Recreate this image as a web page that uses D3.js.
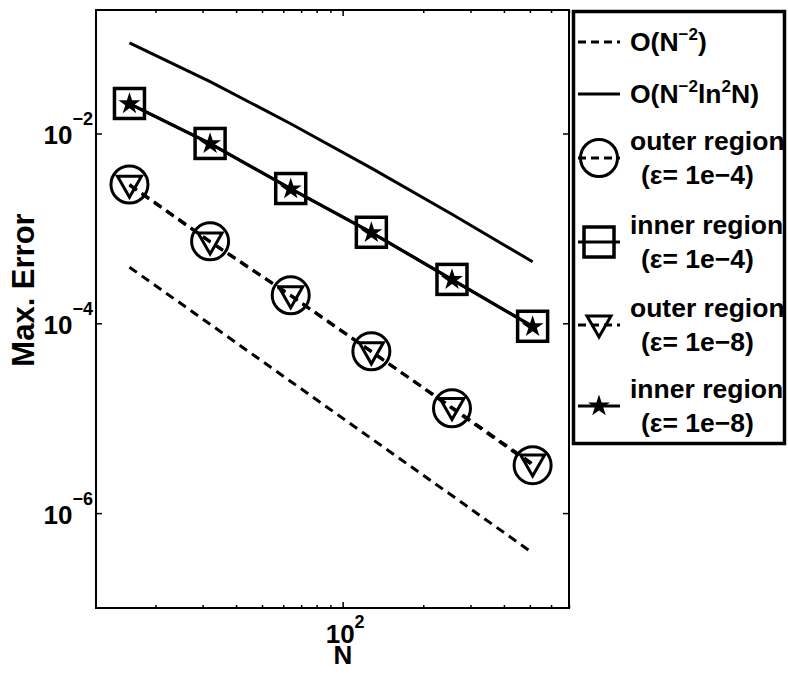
<!DOCTYPE html>
<html>
<head>
	<meta charset="utf-8">
	<title>Max. Error vs N</title>
	<script src="https://d3js.org/d3.v7.min.js"></script>
	<style>
		body { margin: 0; background: white; }
		text { font-family: "Liberation Sans", Arial, Helvetica, sans-serif; font-weight: bold; fill: black; }
	</style>
</head>
<body>
</body>
<script>
	// data
	var nValues = [16, 32, 64, 128, 256, 512];
	var refN2 = [3.9e-4, 9.77e-5, 2.44e-5, 6.1e-6, 1.53e-6, 3.8e-7];
	var refN2ln = [0.0901, 0.0352, 0.01267, 0.00431, 0.001408, 4.45e-4];
	var outer4 = [2.9e-3, 7.3e-4, 1.97e-4, 5.07e-5, 1.27e-5, 3.2e-6];
	var inner4 = [2.07e-2, 7.85e-3, 2.63e-3, 9.1e-4, 2.9e-4, 9.3e-5];
	var outer8 = [2.85e-3, 7.2e-4, 1.95e-4, 5.0e-5, 1.3e-5, 3.3e-6];
	var inner8 = [2.05e-2, 7.8e-3, 2.6e-3, 9.0e-4, 2.88e-4, 9.2e-5];

	var yTickValues = [1e-2, 1e-4, 1e-6];
	var yTickExp = ["\u22122", "\u22124", "\u22126"];
	var xMajorTicks = [100];
	var xMinorTicks = [20, 30, 40, 50, 60, 70, 80, 90, 200, 300, 400, 500, 600, 700];

	var width = 788, height = 675;
	var mLeft = 96, mRight = 569, mTop = 10, mBottom = 608;

	var svg = d3.select("body").append("svg").attr("width", width).attr("height", height);

	var x = d3.scaleLog().domain([12, 700]).range([mLeft, mRight]);
	var y = d3.scaleLog().domain([1e-7, 0.2]).range([mBottom, mTop]);

	// axes (ticks point inward, like matlab)
	function addAxis(axis, tx, ty) {
		var g = svg.append("g").attr("transform", "translate(" + tx + "," + ty + ")").call(axis);
		g.select(".domain").remove();
		g.selectAll("line").attr("stroke", "black").attr("stroke-width", 1.5);
		return g;
	}
	addAxis(d3.axisBottom(x).tickValues(xMinorTicks).tickSize(-3).tickFormat(""), 0, mBottom);
	addAxis(d3.axisTop(x).tickValues(xMinorTicks).tickSize(-3).tickFormat(""), 0, mTop);
	var xAxisG = addAxis(d3.axisBottom(x).tickValues(xMajorTicks).tickSize(-6).tickFormat(""), 0, mBottom);
	addAxis(d3.axisTop(x).tickValues(xMajorTicks).tickSize(-6).tickFormat(""), 0, mTop);
	var yAxisG = addAxis(d3.axisLeft(y).tickValues(yTickValues).tickSize(-6).tickFormat(""), mLeft, 0);
	addAxis(d3.axisRight(y).tickValues(yTickValues).tickSize(-6).tickFormat(""), mRight, 0);

	svg.append("rect").attr("x", mLeft).attr("y", mTop).attr("width", mRight - mLeft).attr("height", mBottom - mTop)
		.attr("fill", "none").attr("stroke", "black").attr("stroke-width", 2);

	// tick labels with superscripts
	yAxisG.selectAll(".tick").each(function(d, i) {
		var t = d3.select(this).append("text").attr("text-anchor", "end").attr("x", -3).attr("y", 10);
		t.append("tspan").attr("font-size", 26).text("10");
		t.append("tspan").attr("font-size", 18).attr("dy", -19).text(yTickExp[i]);
	});
	xAxisG.selectAll(".tick").each(function(d) {
		var t = d3.select(this).append("text").attr("text-anchor", "middle").attr("y", 35).attr("x", 2);
		t.append("tspan").attr("font-size", 26).text("10");
		t.append("tspan").attr("font-size", 18).attr("dy", -15).text("2");
	});

	svg.append("text").attr("x", 343).attr("y", 664).attr("text-anchor", "middle").attr("font-size", 26).text("N");
	svg.append("text").attr("transform", "translate(34,290) rotate(-90)").attr("text-anchor", "middle")
		.attr("font-size", 31).text("Max. Error");

	// series
	var line = d3.line().x(function(d) { return x(d[0]); }).y(function(d) { return y(d[1]); });
	function pairs(vals) { return nValues.map(function(n, i) { return [n, vals[i]]; }); }

	var series = [
		{ vals: refN2, dash: "9,6", marker: null },
		{ vals: refN2ln, dash: null, marker: null },
		{ vals: outer4, dash: "9,6", marker: "circle" },
		{ vals: inner4, dash: null, marker: "square" },
		{ vals: outer8, dash: "9,6", marker: "triangle" },
		{ vals: inner8, dash: null, marker: "star" }
	];

	function drawMarker(g, kind, cx, cy) {
		if (kind === "circle") {
			g.append("circle").attr("cx", cx).attr("cy", cy).attr("r", 18.5)
				.attr("fill", "none").attr("stroke", "black").attr("stroke-width", 3);
		} else if (kind === "square") {
			g.append("rect").attr("x", cx - 15).attr("y", cy - 15).attr("width", 30).attr("height", 30)
				.attr("fill", "none").attr("stroke", "black").attr("stroke-width", 3.5);
		} else if (kind === "triangle") {
			g.append("path").attr("d", "M" + (cx - 12) + "," + (cy - 9) + "L" + (cx + 12) + "," + (cy - 9) + "L" + cx + "," + (cy + 12) + "Z")
				.attr("fill", "none").attr("stroke", "black").attr("stroke-width", 3);
		} else if (kind === "star") {
			g.append("path").attr("d", d3.symbol().type(d3.symbolStar).size(150)())
				.attr("transform", "translate(" + cx + "," + cy + ")").attr("fill", "black");
		}
	}

	series.forEach(function(s) {
		svg.append("path").datum(pairs(s.vals)).attr("d", line)
			.attr("fill", "none").attr("stroke", "black").attr("stroke-width", 3)
			.attr("stroke-dasharray", s.dash);
	});
	series.forEach(function(s) {
		if (!s.marker) return;
		var g = svg.append("g");
		pairs(s.vals).forEach(function(p) { drawMarker(g, s.marker, x(p[0]), y(p[1])); });
	});

	// legend
	var legendLabels = [
		[["O(N", ""], ["\u22122", "sup"], [")", ""]],
		[["O(N", ""], ["\u22122", "sup"], ["ln", ""], ["2", "sup"], ["N)", ""]],
		[["outer region", ""]],
		[["inner region", ""]],
		[["outer region", ""]],
		[["inner region", ""]]
	];
	var legendSub = [null, null, "(\u03b5= 1e\u22124)", "(\u03b5= 1e\u22124)", "(\u03b5= 1e\u22128)", "(\u03b5= 1e\u22128)"];
	var legendY = [42, 94, 158, 242, 325, 406];

	svg.append("rect").attr("x", 573.5).attr("y", 11.5).attr("width", 211).attr("height", 432)
		.attr("fill", "white").attr("stroke", "black").attr("stroke-width", 3.5);

	var lg = svg.append("g");
	series.forEach(function(s, i) {
		var cy = legendY[i];
		lg.append("line").attr("x1", 578).attr("x2", 620).attr("y1", cy).attr("y2", cy)
			.attr("stroke", "black").attr("stroke-width", 3).attr("stroke-dasharray", s.dash ? "8,5" : null);
		if (s.marker) drawMarker(lg, s.marker, 599, cy);

		var first = legendSub[i] ? cy - 17 : cy;
		var t = lg.append("text").attr("x", 630).attr("y", first + 9).attr("font-size", 26.5);
		var raised = false;
		legendLabels[i].forEach(function(part) {
			var ts = t.append("tspan").text(part[0]);
			if (part[1] === "sup") { ts.attr("font-size", 17).attr("dy", -11); raised = true; }
			else if (raised) { ts.attr("dy", 11); raised = false; }
		});
		if (legendSub[i]) {
			lg.append("text").attr("x", 641).attr("y", cy + 17 + 9).attr("font-size", 26.5).text(legendSub[i]);
		}
	});
</script>
</html>
